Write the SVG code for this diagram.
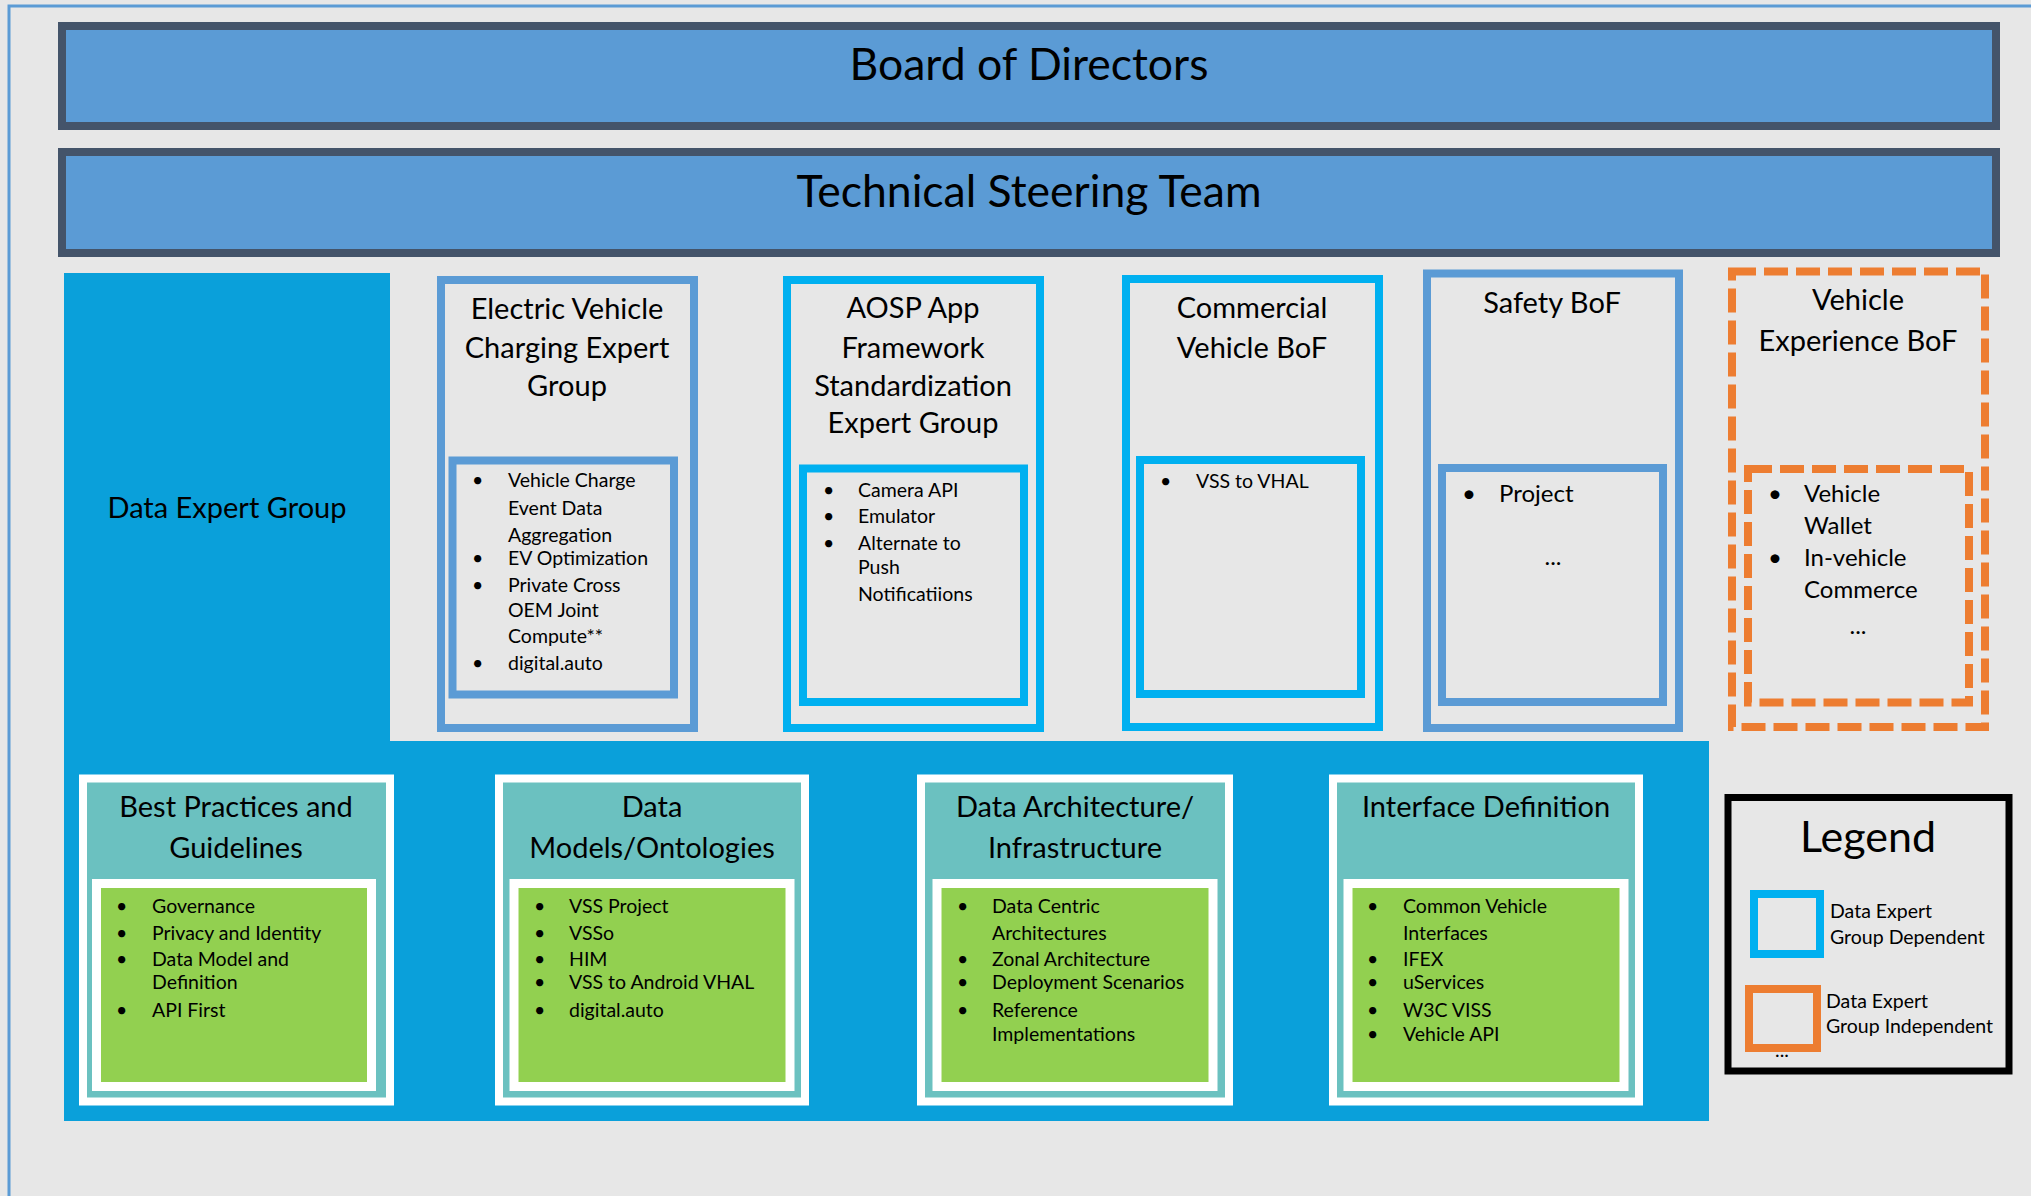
<svg xmlns="http://www.w3.org/2000/svg" width="2031" height="1196" viewBox="0 0 2031 1196">
<style>
text{font-family:Lato,"Liberation Sans",sans-serif;fill:#000}
.big{font-size:44.5px;text-anchor:middle}
.lg{font-size:43px;text-anchor:middle}
.ttl{font-size:29px;text-anchor:middle}
.bl{font-size:19.5px}
.bl2{font-size:24px}
.c{text-anchor:middle}
.blue{fill:#E7E7E7;stroke:#5B9BD5;stroke-width:8}
.cyan{fill:#E7E7E7;stroke:#00B0F0;stroke-width:8}
.org{fill:#E7E7E7;stroke:#ED7D31;stroke-width:8;stroke-dasharray:24 8}
.teal{fill:#6BC1C0;stroke:#FFFFFF;stroke-width:8}
.grn{fill:#92D050;stroke:#FFFFFF;stroke-width:9}
.bar{fill:#5B9BD5;stroke:#44546A;stroke-width:8}
</style>
<rect x="0" y="0" width="2031" height="1196" fill="#E7E7E7"/>
<rect x="9" y="6" width="2040" height="1210" fill="none" stroke="#5B9BD5" stroke-width="3"/>
<g id="connectors"></g>
<g id="board">
<rect class="bar" x="62" y="26" width="1934" height="100"/>
<text class="big" x="1029" y="80">Board of Directors</text>
</g>
<g id="tst">
<rect class="bar" x="62" y="152" width="1934" height="101"/>
<text class="big" x="1029" y="207">Technical Steering Team</text>
</g>
<g id="data-expert-group">
<polygon points="64,273 390,273 390,741 1709,741 1709,1121 64,1121" fill="#0AA0DA"/>
<text class="ttl" x="227" y="518">Data Expert Group</text>
</g>
<g id="ev-charging">
<rect class="blue" x="441" y="280" width="253" height="448"/>
<text class="ttl" x="567" y="319">Electric Vehicle</text>
<text class="ttl" x="567" y="358">Charging Expert</text>
<text class="ttl" x="567" y="396">Group</text>
<rect class="blue" x="452.5" y="460.5" width="221.5" height="234"/>
<g class="bl">
<text x="472" y="487">•</text><text x="508" y="487">Vehicle Charge</text>
<text x="508" y="515">Event Data</text>
<text x="508" y="542">Aggregation</text>
<text x="472" y="565">•</text><text x="508" y="565">EV Optimization</text>
<text x="472" y="592">•</text><text x="508" y="592">Private Cross</text>
<text x="508" y="617">OEM Joint</text>
<text x="508" y="643">Compute**</text>
<text x="472" y="670">•</text><text x="508" y="670">digital.auto</text>
</g>
</g>
<g id="aosp">
<rect class="cyan" x="787" y="280" width="253" height="448"/>
<text class="ttl" x="913" y="318">AOSP App</text>
<text class="ttl" x="913" y="358">Framework</text>
<text class="ttl" x="913" y="396">Standardization</text>
<text class="ttl" x="913" y="433">Expert Group</text>
<rect class="cyan" x="803" y="468.5" width="221" height="233.5"/>
<g class="bl">
<text x="823" y="497">•</text><text x="858" y="497">Camera API</text>
<text x="823" y="523">•</text><text x="858" y="523">Emulator</text>
<text x="823" y="550">•</text><text x="858" y="550">Alternate to</text>
<text x="858" y="574">Push</text>
<text x="858" y="601">Notificatiions</text>
</g>
</g>
<g id="commercial">
<rect class="cyan" x="1126" y="279" width="253" height="448"/>
<text class="ttl" x="1252" y="318">Commercial</text>
<text class="ttl" x="1252" y="358">Vehicle BoF</text>
<rect class="cyan" x="1140" y="460" width="221" height="234"/>
<g class="bl">
<text x="1160" y="488">•</text><text x="1196" y="488">VSS to VHAL</text>
</g>
</g>
<g id="safety">
<rect class="blue" x="1427" y="273.5" width="252" height="454.5"/>
<text class="ttl" x="1552" y="313">Safety BoF</text>
<rect class="blue" x="1442" y="468" width="221" height="234"/>
<g class="bl2">
<text x="1462" y="502">•</text><text x="1499" y="502">Project</text>
<text class="c" x="1553" y="565">...</text>
</g>
</g>
<g id="vehicle-experience">
<rect class="org" x="1732" y="271.5" width="253" height="455.5"/>
<text class="ttl" x="1858" y="310">Vehicle</text>
<text class="ttl" x="1858" y="351">Experience BoF</text>
<rect class="org" x="1748" y="469" width="221" height="233.5"/>
<g class="bl2">
<text x="1768" y="502">•</text><text x="1804" y="502">Vehicle</text>
<text x="1804" y="534">Wallet</text>
<text x="1768" y="566">•</text><text x="1804" y="566">In-vehicle</text>
<text x="1804" y="598">Commerce</text>
<text class="c" x="1858" y="634">...</text>
</g>
</g>
<g id="best-practices">
<rect class="teal" x="83" y="778.5" width="307" height="323"/>
<text class="ttl" x="236" y="817">Best Practices and</text>
<text class="ttl" x="236" y="858">Guidelines</text>
<rect class="grn" x="96.5" y="883.5" width="275" height="203"/>
<g class="bl">
<text x="116" y="913">•</text><text x="152" y="913">Governance</text>
<text x="116" y="940">•</text><text x="152" y="940">Privacy and Identity</text>
<text x="116" y="966">•</text><text x="152" y="966">Data Model and</text>
<text x="152" y="989">Definition</text>
<text x="116" y="1017">•</text><text x="152" y="1017">API First</text>
</g>
</g>
<g id="data-models">
<rect class="teal" x="499" y="778.5" width="306" height="323"/>
<text class="ttl" x="652" y="817">Data</text>
<text class="ttl" x="652" y="858">Models/Ontologies</text>
<rect class="grn" x="514" y="883.5" width="276" height="203"/>
<g class="bl">
<text x="534" y="913">•</text><text x="569" y="913">VSS Project</text>
<text x="534" y="940">•</text><text x="569" y="940">VSSo</text>
<text x="534" y="966">•</text><text x="569" y="966">HIM</text>
<text x="534" y="989">•</text><text x="569" y="989">VSS to Android VHAL</text>
<text x="534" y="1017">•</text><text x="569" y="1017">digital.auto</text>
</g>
</g>
<g id="data-architecture">
<rect class="teal" x="921" y="778.5" width="308" height="323"/>
<text class="ttl" x="1075" y="817">Data Architecture/</text>
<text class="ttl" x="1075" y="858">Infrastructure</text>
<rect class="grn" x="937" y="883.5" width="276" height="203"/>
<g class="bl">
<text x="957" y="913">•</text><text x="992" y="913">Data Centric</text>
<text x="992" y="940">Architectures</text>
<text x="957" y="966">•</text><text x="992" y="966">Zonal Architecture</text>
<text x="957" y="989">•</text><text x="992" y="989">Deployment Scenarios</text>
<text x="957" y="1017">•</text><text x="992" y="1017">Reference</text>
<text x="992" y="1041">Implementations</text>
</g>
</g>
<g id="interface-definition">
<rect class="teal" x="1333" y="778.5" width="306" height="323"/>
<text class="ttl" x="1486" y="817">Interface Definition</text>
<rect class="grn" x="1348" y="883.5" width="276" height="203"/>
<g class="bl">
<text x="1367" y="913">•</text><text x="1403" y="913">Common Vehicle</text>
<text x="1403" y="940">Interfaces</text>
<text x="1367" y="966">•</text><text x="1403" y="966">IFEX</text>
<text x="1367" y="989">•</text><text x="1403" y="989">uServices</text>
<text x="1367" y="1017">•</text><text x="1403" y="1017">W3C VISS</text>
<text x="1367" y="1041">•</text><text x="1403" y="1041">Vehicle API</text>
</g>
</g>
<g id="legend">
<rect x="1728" y="797.5" width="281" height="273.5" fill="#E7E7E7" stroke="#000" stroke-width="7"/>
<text class="lg" x="1868" y="852">Legend</text>
<rect class="cyan" x="1754" y="894" width="66" height="60"/>
<g class="bl">
<text x="1830" y="918">Data Expert</text>
<text x="1830" y="944">Group Dependent</text>
<text class="c" x="1782" y="1057">...</text>
</g>
<rect x="1749" y="989" width="68" height="59" fill="#E7E7E7" stroke="#ED7D31" stroke-width="8"/>
<g class="bl">
<text x="1826" y="1008">Data Expert</text>
<text x="1826" y="1033">Group Independent</text>
</g>
</g>
</svg>
